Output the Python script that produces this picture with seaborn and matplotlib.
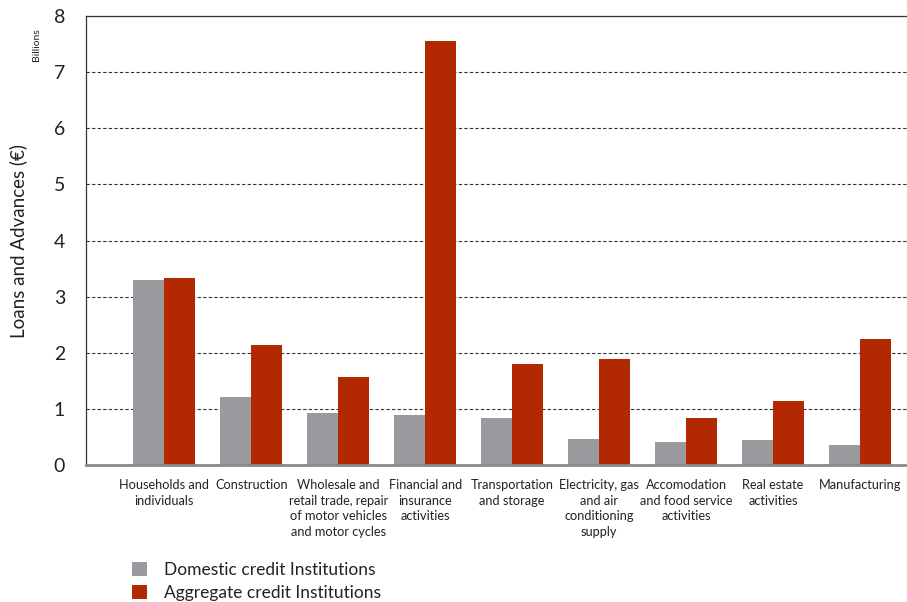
import matplotlib
matplotlib.use("Agg")
import matplotlib.pyplot as plt
import seaborn as sns
import pandas as pd
from matplotlib.patches import Patch

categories = [
    "Households and\nindividuals",
    "Construction",
    "Wholesale and\nretail trade, repair\nof motor vehicles\nand motor cycles",
    "Financial and\ninsurance\nactivities",
    "Transportation\nand storage",
    "Electricity, gas\nand air\nconditioning\nsupply",
    "Accomodation\nand food service\nactivities",
    "Real estate\nactivities",
    "Manufacturing",
]
domestic = [3.30, 1.21, 0.93, 0.89, 0.84, 0.46, 0.41, 0.45, 0.36]
aggregate = [3.34, 2.14, 1.57, 7.55, 1.80, 1.88, 0.84, 1.14, 2.25]
series = ["Domestic credit Institutions", "Aggregate credit Institutions"]
yticks = [0, 1, 2, 3, 4, 5, 6, 7, 8]

df = pd.DataFrame({
    "category": categories * 2,
    "value": domestic + aggregate,
    "series": [series[0]] * len(categories) + [series[1]] * len(categories),
})

sns.set_theme(style="white")
plt.rcParams["font.family"] = ["Lato", "DejaVu Sans"]

colors = {series[0]: "#9a999e", series[1]: "#b22800"}

fig = plt.figure(figsize=(9.07, 6.02), dpi=100)
ax = fig.add_axes([86 / 907, 1 - 465 / 602, (907 - 86) / 907, (465 - 16) / 602])

sns.barplot(data=df, x="category", y="value", hue="series", palette=colors,
            width=0.71, saturation=1, ax=ax, legend=False, errorbar=None,
            linewidth=0, edgecolor="none")

ax.set_ylim(0, 8)
ax.set_xlim(-0.9, 8.54)
ax.set_yticks(yticks)
ax.set_yticklabels([str(t) for t in yticks], fontsize=14, color="#222222")
ax.tick_params(axis="y", length=0, pad=15)
ax.tick_params(axis="x", length=0, pad=10)
ax.set_xticks(range(len(categories)))
ax.set_xticklabels(categories, fontsize=9.2, color="#222222", linespacing=1.38, va="top")
ax.set_xlabel("")
ax.set_ylabel("Loans and Advances (\u20ac)", fontsize=13.5, color="#222222", labelpad=19)

for y in yticks[1:-1]:
    ax.axhline(y, color="#333333", lw=0.8, ls=(0, (3, 2)), zorder=0)

for side in ["left", "top"]:
    ax.spines[side].set_color("#333333")
    ax.spines[side].set_linewidth(0.9)
ax.spines["right"].set_visible(False)
ax.spines["bottom"].set_color("#8a8a8a")
ax.spines["bottom"].set_linewidth(2)

fig.text(36 / 907, 1 - 45 / 602, "Billions", rotation=90, fontsize=7.5,
         color="#222222", ha="center", va="center")

handles = [Patch(facecolor=colors[s], edgecolor="none") for s in series]
fig.legend(handles, series, loc="upper left", bbox_to_anchor=(132 / 907, 1 - 562 / 602),
           frameon=False, fontsize=12.5, handlelength=0.85, handleheight=0.85,
           handletextpad=1.0, labelspacing=0.42, borderaxespad=0, borderpad=0,
           labelcolor="#222222")

fig.savefig("out.png", dpi=100)
